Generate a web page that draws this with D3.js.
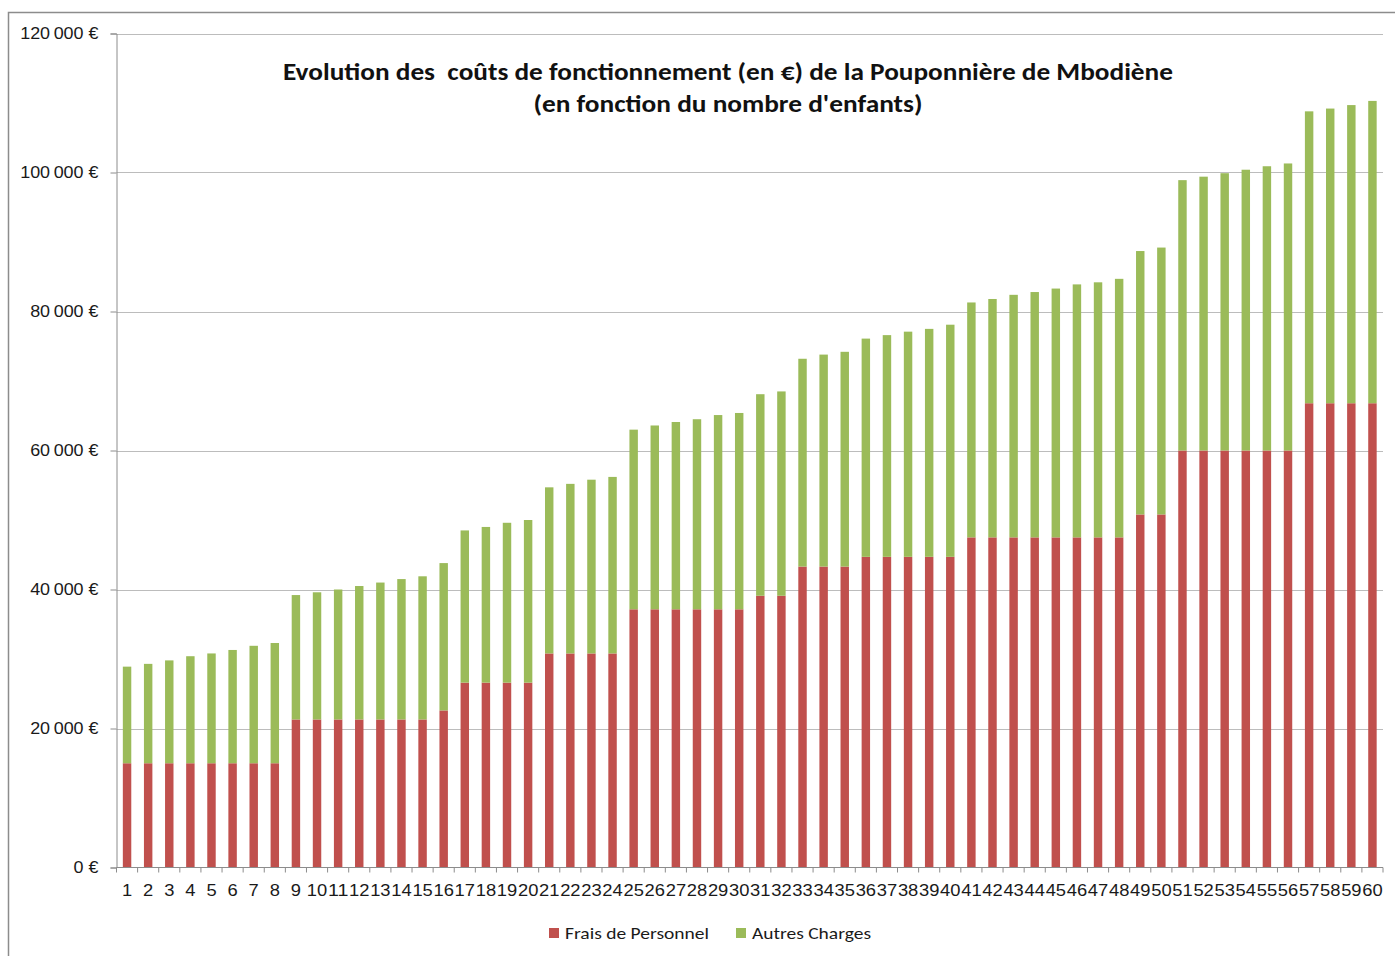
<!DOCTYPE html>
<html>
<head>
<meta charset="utf-8">
<script src="https://cdn.jsdelivr.net/npm/d3@7"></script>
<style>
  body { margin: 0; background: #fff; }
  svg { display: block; font-family: Carlito, "Liberation Sans Narrow", "Open Sans", sans-serif; }
</style>
</head>
<body>
<svg id="canvas" width="1395" height="956"></svg>
<script>
// nombre d'enfants
const enfants = d3.range(1, 61).map(String);

// Frais de Personnel (€)
const fraisPersonnel = [
  15000, 15000, 15000, 15000, 15000, 15000, 15000, 15000,
  21300, 21300, 21300, 21300, 21300, 21300, 21300, 22600,
  26600, 26600, 26600, 26600,
  30800, 30800, 30800, 30800,
  37150, 37150, 37150, 37150, 37150, 37150,
  39100, 39100,
  43300, 43300, 43300,
  44700, 44700, 44700, 44700, 44700,
  47500, 47500, 47500, 47500, 47500, 47500, 47500, 47500,
  50800, 50800,
  60000, 60000, 60000, 60000, 60000, 60000,
  66800, 66800, 66800, 66800
];

// Autres Charges (€)
const autresCharges = [
  13900, 14300, 14800, 15400, 15800, 16300, 16900, 17300,
  17900, 18300, 18700, 19200, 19700, 20200, 20600, 21200,
  21900, 22400, 23000, 23400,
  23900, 24400, 25000, 25400,
  25850, 26450, 26950, 27350, 27950, 28250,
  29000, 29400,
  29900, 30500, 30900,
  31400, 31900, 32400, 32800, 33400,
  33800, 34300, 34900, 35300, 35800, 36400, 36700, 37200,
  37900, 38400,
  38900, 39400, 39900, 40400, 40900, 41300,
  42000, 42400, 42900, 43500
];

const seriesNames = ["Frais de Personnel", "Autres Charges"];
const seriesColors = ["#c0504d", "#9bbb59"];
const yTicks = [0, 20000, 40000, 60000, 80000, 100000, 120000];
const titleLines = [
  "Evolution des  coûts de fonctionnement (en €) de la Pouponnière de Mbodiène",
  "(en fonction du nombre d'enfants)"
];

let svg = d3.select("#canvas");

// le texte de l'image d'origine est un peu étiré en largeur
let stretch = (sel, k) => {
  sel.each(function() {
    let w = this.getComputedTextLength();
    d3.select(this).attr("textLength", w * k).attr("lengthAdjust", "spacingAndGlyphs");
  });
};

// cadre du graphique
svg.append("path")
   .attr("d", "M8.5,960 V12.5 H1400")
   .attr("fill", "none")
   .attr("stroke", "#8c8c8c")
   .attr("stroke-width", 1.5);

let margin = { left: 116.5, right: 1383, top: 33.5, bottom: 867.5 };

let x = d3.scaleBand()
          .domain(enfants)
          .range([margin.left, margin.right])
          .paddingInner(0.6)
          .paddingOuter(0.3);

let y = d3.scaleLinear()
          .domain([0, 120000])
          .range([margin.bottom, margin.top]);

let fmt = (v) => d3.format(",")(v).replace(/,/g, "\u202f") + " €";

// grille
svg.append("g")
   .selectAll("line")
   .data(yTicks.slice(1))
   .enter()
   .append("line")
   .attr("x1", margin.left)
   .attr("x2", margin.right)
   .attr("y1", (d) => Math.round(y(d)) + 0.5)
   .attr("y2", (d) => Math.round(y(d)) + 0.5)
   .attr("stroke", "#bcbcbc")
   .attr("stroke-width", 1.2);

// barres empilées
let rows = enfants.map((e, i) => ({ enfant: e, frais: fraisPersonnel[i], autres: autresCharges[i] }));
let stacked = d3.stack().keys(["frais", "autres"])(rows);

svg.append("g")
   .selectAll("g")
   .data(stacked)
   .enter()
   .append("g")
   .attr("fill", (d, i) => seriesColors[i])
   .selectAll("rect")
   .data((d) => d)
   .enter()
   .append("rect")
   .attr("x", (d) => x(d.data.enfant))
   .attr("width", x.bandwidth())
   .attr("y", (d) => y(d[1]))
   .attr("height", (d) => y(d[0]) - y(d[1]));

// axe Y
let yAxis = d3.axisLeft(y)
              .tickValues(yTicks)
              .tickFormat(fmt)
              .tickSize(6)
              .tickPadding(12);

let gy = svg.append("g")
            .attr("transform", `translate(${margin.left},0)`)
            .call(yAxis);
gy.select(".domain").attr("stroke", "#8c8c8c");
gy.selectAll(".tick line").attr("stroke", "#8c8c8c");
gy.selectAll("text")
  .attr("fill", "#1a1a1a")
  .style("font-size", "16px")
  .call(stretch, 1.12);

// axe X
let xAxis = d3.axisBottom(x).tickSize(0).tickPadding(17);
let gx = svg.append("g")
            .attr("transform", `translate(0,${margin.bottom})`)
            .call(xAxis);
gx.select(".domain").attr("stroke", "#8c8c8c").attr("d", `M${margin.left},0H${margin.right}`);
gx.selectAll("text")
  .attr("fill", "#1a1a1a")
  .style("font-size", "16px")
  .attr("textLength", (d) => d.length * 10.2)
  .attr("lengthAdjust", "spacingAndGlyphs");

// petites graduations entre catégories
let step = x.step();
gx.append("g")
  .selectAll("line")
  .data(d3.range(0, enfants.length + 1))
  .enter()
  .append("line")
  .attr("x1", (i) => margin.left + i * step)
  .attr("x2", (i) => margin.left + i * step)
  .attr("y1", 0)
  .attr("y2", 5)
  .attr("stroke", "#8c8c8c");

// titre
const titleWidths = [890, 389];
svg.append("g")
   .selectAll("text")
   .data(titleLines)
   .enter()
   .append("text")
   .attr("x", 728)
   .attr("y", (d, i) => 80 + i * 32)
   .attr("text-anchor", "middle")
   .attr("font-weight", "bold")
   .attr("fill", "#111")
   .style("font-size", "24px")
   .style("white-space", "pre")
   .attr("textLength", (d, i) => titleWidths[i])
   .attr("lengthAdjust", "spacingAndGlyphs")
   .text((d) => d);

// légende
let legendX = [549, 736];
let legendW = [144, 119];
let legend = svg.append("g")
                .selectAll("g")
                .data(seriesNames)
                .enter()
                .append("g")
                .attr("transform", (d, i) => `translate(${legendX[i]},928)`);
legend.append("rect")
      .attr("width", 10)
      .attr("height", 10)
      .attr("fill", (d, i) => seriesColors[i]);
legend.append("text")
      .attr("x", 16)
      .attr("y", 11)
      .attr("fill", "#1a1a1a")
      .style("font-size", "17px")
      .attr("textLength", (d, i) => legendW[i])
      .attr("lengthAdjust", "spacingAndGlyphs")
      .text((d) => d);
</script>
</body>
</html>
